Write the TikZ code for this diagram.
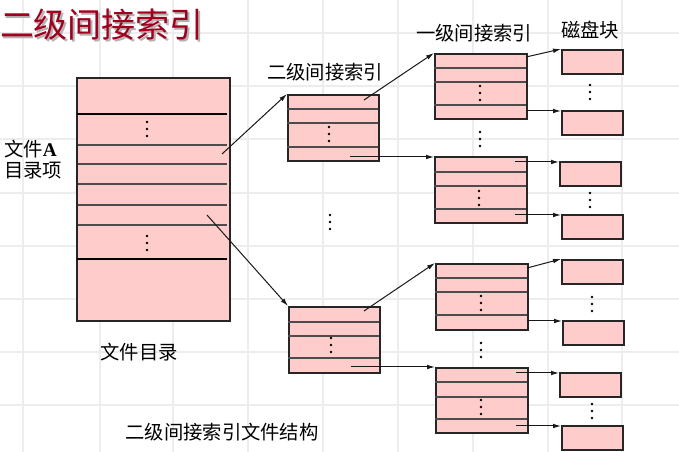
\documentclass[tikz,border=0pt]{standalone}
\usepackage{fontspec}
\setmainfont{Liberation Serif}
\newfontfamily\cjk{Noto Sans CJK SC}
\usetikzlibrary{arrows.meta}
\definecolor{pinkf}{HTML}{FFCCCC}
\definecolor{gridc}{HTML}{EDEDED}
\definecolor{titlec}{HTML}{A0001E}
\newcommand\px[1]{#1*0.75pt}
\begin{document}
\begin{tikzpicture}[x=0.75pt,y=-0.75pt,
  box/.style={draw=black!85,line width=1.5pt,fill=pinkf,inner sep=0pt,anchor=north west},
  smallbox/.style={box,minimum width=\px{92},minimum height=\px{66}},
  diskbox/.style={box,minimum width=\px{61},minimum height=\px{24}},
  rowline/.style={draw=black!70,line width=1pt},
  thickrow/.style={draw=black,line width=1.8pt},
  arr/.style={draw=black!90,line width=0.75pt,-{Latex[length=6pt,width=3.5pt]}},
  lbl/.style={font=\cjk\fontsize{14.5}{17}\selectfont,inner sep=0pt},
  vd/.pic={\foreach \k in {0,7,14} \fill[black] (0,\k) circle (1.4);}]
\useasboundingbox (0,0) rectangle (679,452);
\fill[white] (0,0) rectangle (679,452);
% background grid
\foreach \x in {23,100,173,248,323,398,473,548,622} \draw[gridc,line width=1pt] (\x,0) -- (\x,452);
\foreach \y in {33,86,139,193,246,299,352,405} \draw[gridc,line width=1pt] (0,\y) -- (679,\y);

% title
\node[font=\cjk\fontsize{25.5}{30}\selectfont,text=black!30,inner sep=0pt] at (103.5,26.5) {二级间接索引};
\node[font=\cjk\fontsize{25.5}{30}\selectfont,text=titlec,inner sep=0pt] (title) at (102,25) {二级间接索引};

% file directory
\node[box,minimum width=\px{153},minimum height=\px{243}] (dir) at (76,77) {};
\draw[thickrow] (77,114) -- (227,114);
\foreach \y in {145,164,184,205,225} \draw[rowline] (78,\y) -- (227,\y);
\draw[thickrow] (77,259) -- (227,259);
\pic at (147,122) {vd};
\pic at (147,236) {vd};

% second-level index blocks
\node[smallbox,minimum width=\px{91}] (s1) at (287,94) {};
\foreach \y in {109,123,147} \draw[rowline] (287,\y) -- (378,\y);
\pic at (329,127) {vd};
\node[smallbox,minimum width=\px{91}] (s2) at (288,306) {};
\foreach \y in {322,336,358} \draw[rowline] (288,\y) -- (379,\y);
\pic at (331,338) {vd};
\pic at (330,215) {vd};

% first-level index blocks
\node[smallbox,minimum height=\px{65}] (f1) at (434,53) {};
\foreach \y in {68,82,105} \draw[rowline] (434,\y) -- (526,\y);
\pic at (480,86) {vd};
\node[smallbox] (f2) at (434,156) {};
\foreach \y in {172,186,209} \draw[rowline] (434,\y) -- (526,\y);
\pic at (479,191) {vd};
\node[smallbox] (f3) at (435,263) {};
\foreach \y in {278,292,315} \draw[rowline] (435,\y) -- (527,\y);
\pic at (481,296) {vd};
\node[smallbox,minimum height=\px{65}] (f4) at (435,367) {};
\foreach \y in {382,397,419} \draw[rowline] (435,\y) -- (527,\y);
\pic at (481,400) {vd};
\pic at (480,132) {vd};
\pic at (481,343) {vd};

% disk blocks
\node[diskbox] (d1) at (561,49) {};
\node[diskbox] (d2) at (561,110) {};
\node[diskbox] (d3) at (559,161) {};
\node[diskbox] (d4) at (561,214) {};
\node[diskbox] (d5) at (561,259) {};
\node[diskbox] (d6) at (562,320) {};
\node[diskbox] (d7) at (559,372) {};
\node[diskbox] (d8) at (561,425) {};
\pic at (590,85) {vd};
\pic at (590,193) {vd};
\pic at (592,297) {vd};
\pic at (592,404) {vd};

% labels
\node[lbl] (l2) at (325,72) {二级间接索引};
\node[lbl] (l1) at (474,33) {一级间接索引};
\node[lbl] (ld) at (590,30) {磁盘块};
\node[lbl,anchor=west] (la) at (4,149) {文件{\rmfamily\bfseries A}};
\node[lbl,anchor=west] (lb) at (4,171) {目录项};
\node[lbl] (lc) at (139,352) {文件目录};
\node[lbl] (cap) at (222,432) {二级间接索引文件结构};

% connectors
\coordinate (a1) at (222,154); \draw[arr] (a1) -- (s1.north west);
\coordinate (a2) at (207,215); \draw[arr] (a2) -- (s2.north west);
\coordinate (a3) at (364,100); \draw[arr] (a3) -- (f1.north west);
\coordinate (a4) at (350,157); \draw[arr] (a4) -- (a4 -| f2.west);
\coordinate (a5) at (364,311); \draw[arr] (a5) -- (f3.north west);
\coordinate (a6) at (351,367); \draw[arr] (a6) -- (a6 -| f4.west);
\coordinate (a7) at (526,57); \draw[arr] (a7) -- (d1.north west);
\coordinate (a8) at (526,111); \draw[arr] (a8) -- (a8 -| d2.west);
\coordinate (a9) at (515,162); \draw[arr] (a9) -- (a9 -| d3.west);
\coordinate (a10) at (515,215); \draw[arr] (a10) -- (a10 -| d4.west);
\coordinate (a11) at (527,268); \draw[arr] (a11) -- (d5.north west);
\coordinate (a12) at (527,321); \draw[arr] (a12) -- (a12 -| d6.west);
\coordinate (a13) at (516,373); \draw[arr] (a13) -- (a13 -| d7.west);
\coordinate (a14) at (516,426); \draw[arr] (a14) -- (a14 -| d8.west);
\end{tikzpicture}
\end{document}
